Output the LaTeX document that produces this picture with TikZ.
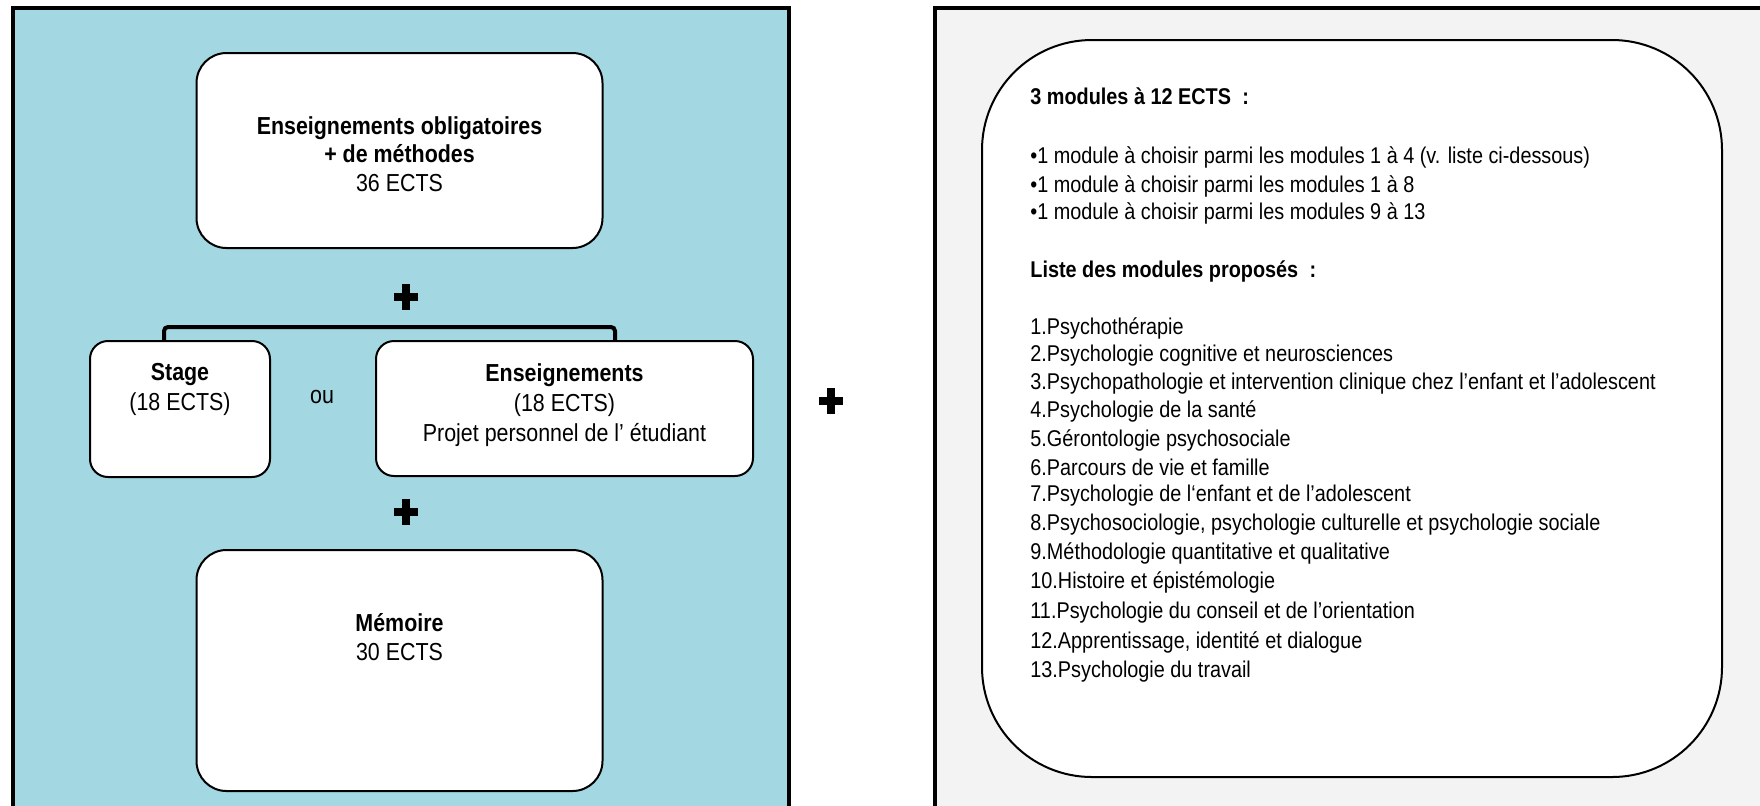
\documentclass[tikz,border=0pt]{standalone}
\usepackage{fontspec}
\setmainfont{Liberation Sans}[FakeStretch=0.87]
\definecolor{panelblue}{HTML}{A3D8E2}
\definecolor{panelgray}{HTML}{F3F3F3}
\begin{document}
\begin{tikzpicture}[x=0.5pt,y=-0.5pt,
  panel/.style={draw=black,line width=2pt},
  box/.style={draw=black,fill=white,line width=1pt,inner sep=0pt},
  bigbox/.style={box,rounded corners=15pt},
  smallbox/.style={box,rounded corners=9pt},
  txt/.style={align=center,inner sep=0pt,font=\fontsize{12.3}{14.2}\selectfont},
  lst/.style={anchor=west,inner sep=0pt,font=\fontsize{11.4}{13}\selectfont},
  bracket/.style={draw=black,line width=2pt,rounded corners=2pt},
  pics/plussign/.style={code={\fill (-12,-3.7) rectangle (12,3.7); \fill (-3.7,-13) rectangle (3.7,13);}}
]
\useasboundingbox (0,0) rectangle (1760,805);
\begin{scope}
\clip (0,0) rectangle (1760,805);
\draw[panel,fill=panelblue] (13,8) rectangle (789,840);
\draw[panel,fill=panelgray] (935,8) rectangle (1800,840);
\end{scope}

% left panel boxes
\node[bigbox,minimum width=203pt,minimum height=97.5pt] (top) at (399.5,150.5) {};
\node[txt] (toptxt) at (399.5,154) {\textbf{Enseignements obligatoires}\\\textbf{+ de méthodes}\\36 ECTS};

\node[smallbox,minimum width=90pt,minimum height=68pt] (stage) at (180,409) {};
\node[txt,font=\fontsize{12.3}{15}\selectfont] (stagetxt) at (180,389) {\textbf{Stage}\\(18 ECTS)};

\node[smallbox,minimum width=188.5pt,minimum height=67.5pt] (ens) at (564.5,408.5) {};
\node[txt,font=\fontsize{12.3}{15}\selectfont] (enstxt) at (564.5,405) {\textbf{Enseignements}\\(18 ECTS)\\Projet personnel de l’ étudiant};

\node[txt] (ou) at (322,397) {ou};

\node[bigbox,minimum width=203pt,minimum height=120.5pt] (mem) at (399.5,670.5) {};
\node[txt] (memtxt) at (399.5,637) {\textbf{Mémoire}\\30 ECTS};

\coordinate (bl) at (164,327);
\coordinate (br) at (615,327);
\draw[bracket] (bl |- stage.north) -- (bl) -- (br) -- (br |- ens.north);

\pic (plusA) at (406,297) {plussign};
\pic (plusB) at (406,512) {plussign};
\pic (plusC) at (831,401) {plussign};

% right panel
\node[box,rounded corners=55pt,minimum width=370pt,minimum height=368.5pt] (modules) at (1352,408.5) {};

\node[lst] (h1) at (1030,96) {\textbf{3 modules à 12 ECTS\enspace:}};
\node[lst] (b1) at (1030,157) {•1 module à choisir parmi les modules 1 à 4 (v. liste ci-dessous)};
\node[lst] (b2) at (1030,186) {•1 module à choisir parmi les modules 1 à 8};
\node[lst] (b3) at (1030,213) {•1 module à choisir parmi les modules 9 à 13};
\node[lst] (h2) at (1030,271) {\textbf{Liste des modules proposés\enspace:}};
\node[lst] (m1) at (1030,328) {1.Psychothérapie};
\node[lst] (m2) at (1030,356) {2.Psychologie cognitive et neurosciences};
\node[lst] (m3) at (1030,384) {3.Psychopathologie et intervention clinique chez l’enfant et l’adolescent};
\node[lst] (m4) at (1030,411) {4.Psychologie de la santé};
\node[lst] (m5) at (1030,440) {5.Gérontologie psychosociale};
\node[lst] (m6) at (1030,467) {6.Parcours de vie et famille};
\node[lst] (m7) at (1030,496) {7.Psychologie de l‘enfant et de l’adolescent};
\node[lst] (m8) at (1030,525) {8.Psychosociologie, psychologie culturelle et psychologie sociale};
\node[lst] (m9) at (1030,553) {9.Méthodologie quantitative et qualitative};
\node[lst] (m10) at (1030,582) {10.Histoire et épistémologie};
\node[lst] (m11) at (1030,613) {11.Psychologie du conseil et de l’orientation};
\node[lst] (m12) at (1030,642) {12.Apprentissage, identité et dialogue};
\node[lst] (m13) at (1030,672) {13.Psychologie du travail};
\end{tikzpicture}
\end{document}
